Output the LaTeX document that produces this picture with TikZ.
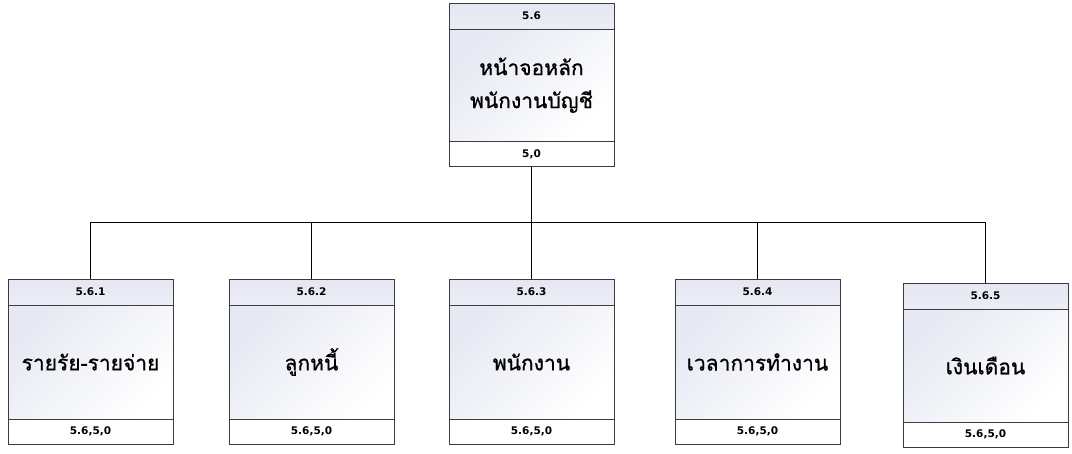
\documentclass[tikz,border=0pt]{standalone}
\usepackage{fontspec}
\setmainfont{DejaVu Sans}
\newfontfamily\thaifont[Script=Thai,FakeBold=0.8]{Loma}
\definecolor{edgegray}{HTML}{3C3C3C}
\definecolor{headfill}{HTML}{E4E6F2}
\definecolor{bodyfill}{HTML}{E6E9F3}
\tikzset{
  part/.style={draw=edgegray, line width=0.9pt, rectangle, inner sep=0pt, outer sep=0pt, anchor=north west, minimum width=165pt},
  headbox/.style={part, minimum height=26pt, top color=headfill, bottom color=headfill!70!white, font=\bfseries\fontsize{10.5}{12}\selectfont},
  bodybox/.style={part, shading=axis, left color=bodyfill, right color=white, shading angle=45, font=\thaifont\fontsize{21}{33}\selectfont, align=center},
  footbox/.style={part, minimum height=25pt, fill=white, font=\bfseries\fontsize{10.5}{12}\selectfont},
  link/.style={draw=black, line width=0.8pt}
}
\begin{document}
\begin{tikzpicture}[x=1pt,y=-1pt]
\useasboundingbox (0,0) rectangle (1072,453);
% top box
\node[headbox] (h0) at (449,3) {5.6};
\node[bodybox, minimum height=112.5pt] (b0) at (h0.south west) {หน้าจอหลัก\\พนักงานบัญชี};
\node[footbox] (f0) at (b0.south west) {5,0};
% children
\node[headbox] (h1) at (8,279) {5.6.1};
\node[bodybox, minimum height=114pt] (b1) at (h1.south west) {รายรัย-รายจ่าย};
\node[footbox] (f1) at (b1.south west) {5.6,5,0};
\node[headbox] (h2) at (229,279) {5.6.2};
\node[bodybox, minimum height=114pt] (b2) at (h2.south west) {ลูกหนี้};
\node[footbox] (f2) at (b2.south west) {5.6,5,0};
\node[headbox] (h3) at (449,279) {5.6.3};
\node[bodybox, minimum height=114pt] (b3) at (h3.south west) {พนักงาน};
\node[footbox] (f3) at (b3.south west) {5.6,5,0};
\node[headbox] (h4) at (675,279) {5.6.4};
\node[bodybox, minimum height=114pt] (b4) at (h4.south west) {เวลาการทำงาน};
\node[footbox] (f4) at (b4.south west) {5.6,5,0};
\node[headbox] (h5) at (903,283) {5.6.5};
\node[bodybox, minimum height=113pt] (b5) at (h5.south west) {เงินเดือน};
\node[footbox] (f5) at (b5.south west) {5.6,5,0};
% connectors
\coordinate (j) at (531.5,222);
\draw[link] (f0.south) -- (j);
\draw[link] (h1.north) |- (j);
\draw[link] (h2.north) |- (j);
\draw[link] (h3.north) -- (j);
\draw[link] (h4.north) |- (j);
\draw[link] (h5.north) |- (j);
\end{tikzpicture}
\end{document}
